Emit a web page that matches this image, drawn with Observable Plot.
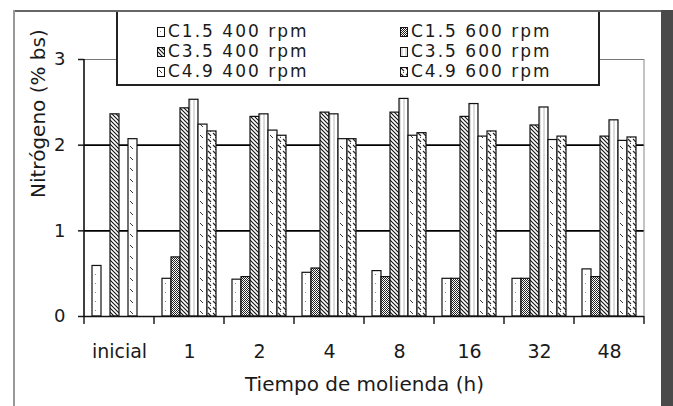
<!DOCTYPE html>
<html>
<head>
<meta charset="utf-8">
<script src="https://cdn.jsdelivr.net/npm/d3@7"></script>
<script src="https://cdn.jsdelivr.net/npm/@observablehq/plot@0.6"></script>
<style>
  body { margin: 0; background: #fff; }
  #wrap { position: relative; width: 673px; height: 406px; overflow: hidden; background: #fff; font-family: "DejaVu Sans", sans-serif; color: #1a1a1a; }
  #wrap svg.chart { position: absolute; left: 0; top: 0; }
  .frame-top { position: absolute; left: 13px; top: 10px; width: 650px; height: 2px; background: #666; }
  .frame-left { position: absolute; left: 13px; top: 10px; width: 2px; height: 396px; background: #999; }
  .frame-right { position: absolute; left: 661px; top: 10px; width: 12px; height: 396px; background: #4a4a4a; }
  #legend { position: absolute; left: 116px; top: 12px; width: 480px; height: 72px; background: #fff;
            border-left: 2px solid #222; border-right: 2px solid #222; border-bottom: 2px solid #222; }
  .entry { position: absolute; height: 19px; display: flex; align-items: center; font-size: 17px; line-height: 19px; letter-spacing: 2px; white-space: nowrap; }
  .entry span { line-height: 19px; display: inline-block; height: 19px; }
  .entry svg { margin-right: 3px; }
</style>
</head>
<body>
<svg width="0" height="0" style="position:absolute">
  <defs>
    <pattern id="p0" patternUnits="userSpaceOnUse" width="6" height="9">
      <rect width="6" height="9" fill="#fff"/><rect x="3" y="4" width="1" height="1" fill="#888"/>
    </pattern>
    <pattern id="p1" patternUnits="userSpaceOnUse" width="2" height="2">
      <rect width="2" height="2" fill="#fff"/><rect width="1" height="1" fill="#222"/><rect x="1" y="1" width="1" height="1" fill="#222"/>
    </pattern>
    <pattern id="p2" patternUnits="userSpaceOnUse" width="4" height="4">
      <rect width="4" height="4" fill="#fff"/><path d="M0,0L4,4M-1,3L1,5M3,-1L5,1" stroke="#111" stroke-width="1.1"/>
    </pattern>
    <pattern id="p3" patternUnits="userSpaceOnUse" width="4" height="4">
      <rect width="4" height="4" fill="#fff"/><path d="M2,0V4" stroke="#bbb" stroke-width="1"/>
    </pattern>
    <pattern id="p4" patternUnits="userSpaceOnUse" width="7" height="11">
      <rect width="7" height="11" fill="#fff"/><path d="M2,3L5,6" stroke="#333" stroke-width="1"/>
    </pattern>
    <pattern id="p5" patternUnits="userSpaceOnUse" width="5" height="6">
      <rect width="5" height="6" fill="#fff"/><path d="M1,1L4,4" stroke="#222" stroke-width="1.1"/><rect x="3" y="5" width="1" height="1" fill="#444"/>
    </pattern>
  </defs>
</svg>
<div id="wrap">
  <div class="frame-top"></div>
  <div class="frame-left"></div>
  <div class="frame-right"></div>
</div>
<script>
// ---- data ----
const categories = ["inicial", "1", "2", "4", "8", "16", "32", "48"];
const series = ["C1.5 400 rpm", "C1.5 600 rpm", "C3.5 400 rpm", "C3.5 600 rpm", "C4.9 400 rpm", "C4.9 600 rpm"];
const c15_400 = [0.59, 0.44, 0.43, 0.51, 0.53, 0.44, 0.44, 0.55];
const c15_600 = [null, 0.69, 0.46, 0.56, 0.46, 0.44, 0.44, 0.46];
const c35_400 = [2.36, 2.43, 2.33, 2.38, 2.38, 2.33, 2.23, 2.10];
const c35_600 = [null, 2.53, 2.36, 2.36, 2.54, 2.48, 2.44, 2.29];
const c49_400 = [2.07, 2.24, 2.17, 2.07, 2.11, 2.10, 2.06, 2.05];
const c49_600 = [null, 2.16, 2.11, 2.07, 2.14, 2.16, 2.10, 2.09];
const yTicks = [0, 1, 2, 3];
const gridTicks = [1, 2];
const xTitle = "Tiempo de molienda (h)";
const yTitle = "Nitrógeno (% bs)";
const patterns = ["url(#p0)", "url(#p1)", "url(#p2)", "url(#p3)", "url(#p4)", "url(#p5)"];

const seriesValues = [c15_400, c15_600, c35_400, c35_600, c49_400, c49_600];
const rows = [];
categories.forEach((c, i) => series.forEach((s, k) => {
  const v = seriesValues[k][i];
  if (v != null) rows.push({cat: c, series: s, value: v});
}));

function decorations(index, scales, values, dim) {
  const {width, height, marginLeft, marginRight, marginTop, marginBottom} = dim;
  const left = marginLeft, right = width - marginRight;
  const y0 = scales.y ? scales.y(0) : height - marginBottom;
  const y3 = scales.y ? scales.y(3) : marginTop;
  const fx = scales.fx;
  let bounds;
  if (fx && fx.bandwidth) {
    bounds = categories.map(c => fx(c));
    bounds.push(fx(categories[categories.length - 1]) + fx.bandwidth());
  } else {
    bounds = d3.range(categories.length + 1).map(i => left + (right - left) * i / categories.length);
  }
  const g = d3.create("svg:g");
  g.append("line").attr("x1", right).attr("x2", right).attr("y1", y3).attr("y2", y0).attr("stroke", "#888").attr("stroke-width", 1);
  g.append("line").attr("x1", left).attr("x2", left).attr("y1", y3).attr("y2", y0).attr("stroke", "#111").attr("stroke-width", 1.6);
  g.selectAll("line.tick").data(bounds).join("line").attr("class", "tick")
    .attr("x1", d => d).attr("x2", d => d).attr("y1", y0).attr("y2", y0 + 8)
    .attr("stroke", "#111").attr("stroke-width", 1.4);
  return g.node();
}

const chart = Plot.plot({
  width: 673,
  height: 406,
  marginLeft: 82,
  marginRight: 28,
  marginTop: 59,
  marginBottom: 90,
  style: {background: "transparent", fontFamily: "DejaVu Sans", fontSize: "18px", color: "#1a1a1a", overflow: "visible"},
  fx: {domain: categories, paddingInner: 0, paddingOuter: 0},
  x: {domain: series, paddingInner: 0, paddingOuter: 0.61, axis: null},
  y: {domain: [0, 3]},
  color: {domain: series, range: patterns},
  marks: [
    Plot.gridY({ticks: gridTicks, stroke: "#000", strokeOpacity: 1, strokeWidth: 1.6}),
    Plot.ruleY([3], {stroke: "#777", strokeWidth: 1}),
    Plot.barY(rows, {fx: "cat", x: "series", y: "value", fill: "series", stroke: "#111", strokeWidth: 1.2}),
    Plot.ruleY([0], {stroke: "#111", strokeWidth: 1.6}),
    Plot.axisY({ticks: yTicks, tickFormat: d3.format("d"), tickSize: 6, tickPadding: 13, fontSize: 18, label: null, strokeWidth: 1.5}),
    Plot.axisFx({anchor: "bottom", tickSize: 0, tickPadding: 28, fontSize: 19, label: null}),
    Plot.frame({facet: "super", render: decorations}),
    Plot.text([xTitle], {facet: "super", frameAnchor: "bottom", dy: 74, fontSize: 20, fill: "#1a1a1a"}),
    Plot.text([yTitle], {facet: "super", frameAnchor: "left", rotate: -90, dx: -46, dy: 10, fontSize: 20, fill: "#1a1a1a"})
  ]
});
chart.classList.add("chart");
const wrap = document.getElementById("wrap");
wrap.appendChild(chart);

// legend
const legend = document.createElement("div");
legend.id = "legend";
const colX = [39, 282];
const rowY = [10, 30, 50];
series.forEach((s, k) => {
  const e = document.createElement("div");
  e.className = "entry";
  e.style.left = colX[k % 2] + "px";
  e.style.top = rowY[Math.floor(k / 2)] + "px";
  e.innerHTML = `<svg width="8" height="10"><rect x="0.5" y="0.5" width="7" height="9" fill="${patterns[k]}" stroke="#111" stroke-width="1"/></svg><span>${s}</span>`;
  legend.appendChild(e);
});
wrap.appendChild(legend);
</script>
</body>
</html>
